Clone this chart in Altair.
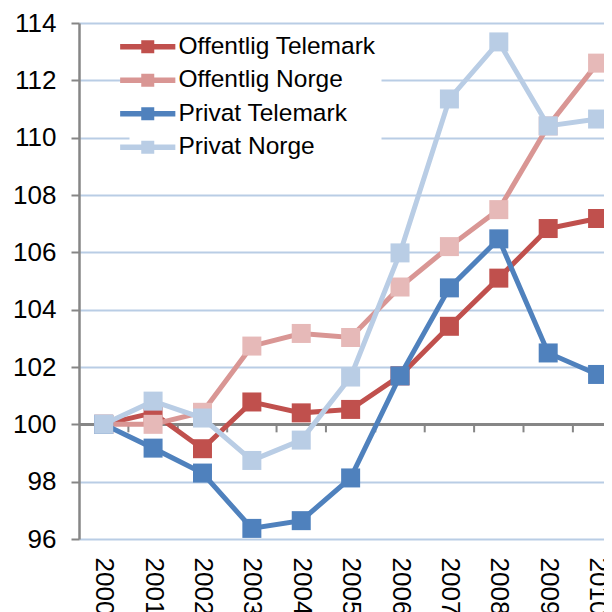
import altair as alt
import pandas as pd

years = list(range(2000, 2011))
series_names = ["Offentlig Telemark", "Offentlig Norge", "Privat Telemark", "Privat Norge"]
off_telemark = [100.0, 100.4, 99.15, 100.78, 100.4, 100.52, 101.69, 103.42, 105.1, 106.83, 107.18]
off_norge = [100.0, 100.0, 100.42, 102.73, 103.17, 103.03, 104.79, 106.2, 107.49, 110.41, 112.6]
priv_telemark = [100.0, 99.17, 98.3, 96.37, 96.64, 98.13, 101.69, 104.76, 106.47, 102.49, 101.74]
priv_norge = [100.0, 100.81, 100.22, 98.74, 99.45, 101.65, 105.98, 111.35, 113.34, 110.41, 110.65]
line_colors = ["#C0504D", "#D99694", "#4F81BD", "#B9CDE5"]
marker_colors = ["#C0504D", "#E6B9B8", "#4F81BD", "#B9CDE5"]
y_ticks = list(range(96, 115, 2))
cat_ticks = [y + 0.5 for y in years[:-1]]

all_values = [off_telemark, off_norge, priv_telemark, priv_norge]
rows = []
for name, vals in zip(series_names, all_values):
    for yr, v in zip(years, vals):
        rows.append({"year": yr, "value": v, "series": name, "marker": name})
df = pd.DataFrame(rows)
tick_df = pd.DataFrame({"year": cat_ticks})

FONT = "Liberation Sans"
GRID = "#B9CDE5"
AXIS = "#868686"

x_enc = alt.X(
    "year:Q",
    scale=alt.Scale(domain=[1999.5, 2010.13], nice=False, zero=False),
    axis=alt.Axis(values=years, format="d", labelAngle=90, grid=False, domain=False,
                  ticks=False, labelPadding=18, labelFontSize=26, labelColor="black",
                  labelFont=FONT, labelFlush=False, labelOverlap=False, title=None),
)
y_enc = alt.Y(
    "value:Q",
    scale=alt.Scale(domain=[96, 114], nice=False, zero=False),
    axis=alt.Axis(values=y_ticks, grid=True, gridColor=GRID, gridWidth=2,
                  domainColor=AXIS, domainWidth=2.5, tickColor=AXIS, tickWidth=2,
                  tickSize=8, labelPadding=15, labelFontSize=26, labelColor="black",
                  labelFont=FONT, title=None, labelFlush=False),
)

# legend glyph: a line through a small square (stroked path)
line_legend = alt.Legend(
    orient="none", legendX=50.5, legendY=5.5, title=None,
    symbolType="M-4.6,0H4.6M-0.625,-0.625H0.625V0.625H-0.625Z",
    symbolSize=144, symbolStrokeWidth=5.5,
    labelFontSize=24.5, labelFont=FONT, labelColor="black", labelOffset=18.5,
    labelLimit=0, fillColor="white", padding=6, rowPadding=3.5,
)

color_enc = alt.Color("series:N", scale=alt.Scale(domain=series_names, range=line_colors),
                      legend=line_legend)
fill_enc = alt.Fill("marker:N", sort=series_names, scale=alt.Scale(range=marker_colors),
                    legend=None)

base = alt.Chart(df)

axis_line = alt.Chart(tick_df).mark_rule(color=AXIS, strokeWidth=2.5).encode(
    y=alt.datum(100)
)
cat_tick_marks = alt.Chart(tick_df).mark_rule(color=AXIS, strokeWidth=2, y2Offset=8).encode(
    x=x_enc, y=alt.datum(100), y2=alt.datum(100)
)

layers = [axis_line, cat_tick_marks]
for name in series_names:
    sub = base.transform_filter(alt.datum.series == name)
    layers.append(sub.mark_line(strokeWidth=5, clip=True).encode(x=x_enc, y=y_enc, color=color_enc))
    layers.append(sub.mark_point(shape="square", filled=True, size=361, opacity=1,
                                 strokeWidth=0, clip=True).encode(x=x_enc, y=y_enc, fill=fill_enc))

chart = alt.layer(*layers).properties(
    width=525, height=516,
    autosize=alt.AutoSizeParams(type="none"),
    padding={"left": 71, "top": 15, "right": 0, "bottom": 73},
    background="white",
).configure_view(stroke=None)

chart.save("out.html", embed_options={"renderer": "svg", "actions": False})
